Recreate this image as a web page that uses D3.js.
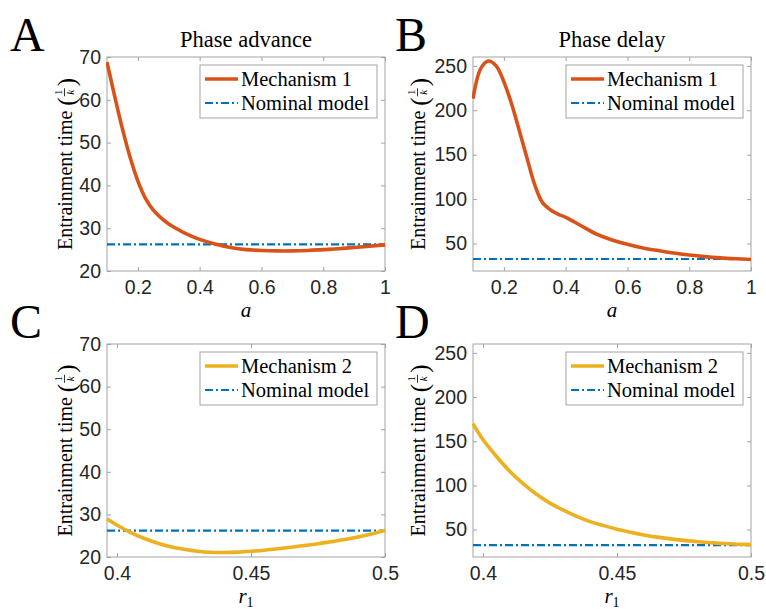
<!DOCTYPE html>
<html>
<head>
<meta charset="utf-8">
<script src="https://cdn.jsdelivr.net/npm/d3@7"></script>
<style>
  body { margin: 0; background: #fff; }
  svg { display: block; }
</style>
</head>
<body>
<div class="chart"></div>
<script>
// sweep of a (panels A, B)
const aValues = [0.1, 0.125, 0.15, 0.175, 0.2, 0.225, 0.25, 0.275, 0.3, 0.325, 0.35, 0.375, 0.4,
  0.45, 0.5, 0.55, 0.6, 0.65, 0.7, 0.75, 0.8, 0.85, 0.9, 0.95, 1.0];
const mech1Advance = [68.8, 60.8, 53.2, 46.5, 41.0, 36.9, 34.2, 32.4, 31.0, 29.9, 28.9, 28.1, 27.4,
  26.3, 25.5, 25.0, 24.8, 24.7, 24.7, 24.8, 25.0, 25.2, 25.5, 25.8, 26.1];
const mech1Delay = [213, 247, 255.5, 250, 232, 207, 177, 146, 116, 96, 88, 83, 79.5,
  70, 60.5, 54, 49, 45, 42, 39.2, 37, 35.2, 33.8, 32.8, 32];

// sweep of r1 (panels C, D)
const r1Values = [0.3963, 0.4, 0.405, 0.41, 0.415, 0.42, 0.425, 0.43, 0.435, 0.44, 0.445, 0.45,
  0.455, 0.46, 0.465, 0.47, 0.475, 0.48, 0.485, 0.49, 0.495, 0.5];
const mech2Advance = [28.9, 27.5, 25.8, 24.4, 23.3, 22.4, 21.8, 21.35, 21.1, 21.05, 21.15, 21.35,
  21.6, 21.95, 22.3, 22.7, 23.1, 23.6, 24.1, 24.7, 25.4, 26.2];
const mech2Delay = [170, 152, 133, 116, 102, 90, 80, 72, 65, 59, 54.5, 50.5,
  47, 44, 41.5, 39.5, 37.8, 36.3, 35.2, 34.2, 33.5, 33];

const nominalAdvance = 26.2;
const nominalDelay = 32.5;

const aTicks = [0.2, 0.4, 0.6, 0.8, 1];
const r1Ticks = [0.4, 0.45, 0.5];
const advanceTicks = [20, 30, 40, 50, 60, 70];
const delayTicks = [50, 100, 150, 200, 250];

const width = 766, height = 609;
const serif = "'Liberation Serif', 'Times New Roman', serif";
const sans = "'Liberation Sans', Arial, sans-serif";
const boxColor = "#a3a3a3";
const textColor = "#262626";
const latexColor = "#000";

const svg = d3
  .select(".chart")
  .append("svg")
  .attr("width", width)
  .attr("height", height);

const panels = [
  { id: "A", title: "Phase advance", xs: aValues, ys: mech1Advance, nominal: nominalAdvance,
    xDomain: [0.1, 1], yDomain: [20, 70], xTicks: aTicks, yTicks: advanceTicks,
    color: "#d95319", name: "Mechanism 1", xLabel: "a",
    left: 107, top: 57, w: 278, h: 214, labelOffset: 35 },
  { id: "B", title: "Phase delay", xs: aValues, ys: mech1Delay, nominal: nominalDelay,
    xDomain: [0.1, 1], yDomain: [19, 260], xTicks: aTicks, yTicks: delayTicks,
    color: "#d95319", name: "Mechanism 1", xLabel: "a",
    left: 473, top: 57, w: 278, h: 214, labelOffset: 48 },
  { id: "C", title: null, xs: r1Values, ys: mech2Advance, nominal: nominalAdvance,
    xDomain: [0.3963, 0.5], yDomain: [20, 70], xTicks: r1Ticks, yTicks: advanceTicks,
    color: "#edb120", name: "Mechanism 2", xLabel: "r1",
    left: 107, top: 344, w: 278, h: 213, labelOffset: 35 },
  { id: "D", title: null, xs: r1Values, ys: mech2Delay, nominal: nominalDelay,
    xDomain: [0.3963, 0.5], yDomain: [19, 260], xTicks: r1Ticks, yTicks: delayTicks,
    color: "#edb120", name: "Mechanism 2", xLabel: "r1",
    left: 473, top: 344, w: 278, h: 213, labelOffset: 48 }
];

panels.forEach(drawPanel);

function drawPanel(p) {
  const g = svg.append("g").attr("transform", `translate(${p.left}, ${p.top})`);
  const x = d3.scaleLinear().domain(p.xDomain).range([0, p.w]);
  const y = d3.scaleLinear().domain(p.yDomain).range([p.h, 0]);
  const fmt = d3.format("~g");

  // axes, ticks pointing inward on all four sides
  const bottom = g.append("g")
    .attr("transform", `translate(0, ${p.h})`)
    .call(d3.axisBottom(x).tickValues(p.xTicks).tickSize(-4).tickPadding(9).tickFormat(fmt));
  const left = g.append("g")
    .call(d3.axisLeft(y).tickValues(p.yTicks).tickSize(-4).tickPadding(6).tickFormat(fmt));
  g.append("g").call(d3.axisTop(x).tickValues(p.xTicks).tickSize(-4).tickFormat(""));
  g.append("g").attr("transform", `translate(${p.w}, 0)`)
    .call(d3.axisRight(y).tickValues(p.yTicks).tickSize(-4).tickFormat(""));

  g.selectAll(".domain").remove();
  g.selectAll(".tick line").attr("stroke", boxColor);
  [bottom, left].forEach(ax => ax.selectAll("text")
    .style("font-family", sans).style("font-size", "19.5px").attr("fill", textColor));

  g.append("rect")
    .attr("width", p.w).attr("height", p.h)
    .attr("fill", "none").attr("stroke", boxColor).attr("stroke-width", 1);

  // clip + curves
  const clipId = "clip" + p.id;
  g.append("clipPath").attr("id", clipId)
    .append("rect").attr("x", -1).attr("y", -2).attr("width", p.w + 2).attr("height", p.h + 4);

  const pts = p.xs.map((v, i) => [v, p.ys[i]]);
  const line = d3.line().x(d => x(d[0])).y(d => y(d[1])).curve(d3.curveCatmullRom.alpha(0.5));

  g.append("line")
    .attr("clip-path", `url(#${clipId})`)
    .attr("x1", x(p.xDomain[0])).attr("x2", x(p.xDomain[1]))
    .attr("y1", y(p.nominal)).attr("y2", y(p.nominal))
    .attr("stroke", "#0072bd").attr("stroke-width", 2.2)
    .attr("stroke-dasharray", "8,3,2,3");

  g.append("path")
    .datum(pts)
    .attr("clip-path", `url(#${clipId})`)
    .attr("d", line)
    .attr("fill", "none")
    .attr("stroke", p.color)
    .attr("stroke-width", 3.6)
    .attr("stroke-linejoin", "round");

  // legend
  const lg = g.append("g").attr("transform", `translate(${p.w - 185}, 8)`);
  lg.append("rect").attr("width", 177).attr("height", 53)
    .attr("fill", "#fff").attr("stroke", boxColor).attr("stroke-width", 1);
  lg.append("line").attr("x1", 5).attr("x2", 38).attr("y1", 14).attr("y2", 14)
    .attr("stroke", p.color).attr("stroke-width", 3.6);
  lg.append("line").attr("x1", 5).attr("x2", 38).attr("y1", 38).attr("y2", 38)
    .attr("stroke", "#0072bd").attr("stroke-width", 2.2).attr("stroke-dasharray", "8,3,2,3");
  lg.append("text").attr("x", 41).attr("y", 21).text(p.name)
    .style("font-family", serif).style("font-size", "20.5px").attr("fill", latexColor);
  lg.append("text").attr("x", 41).attr("y", 45).text("Nominal model")
    .style("font-family", serif).style("font-size", "20.5px").attr("fill", latexColor);

  // title
  if (p.title) {
    svg.append("text")
      .attr("x", p.left + p.w / 2).attr("y", p.top - 10)
      .attr("text-anchor", "middle")
      .style("font-family", serif).style("font-size", "22.5px").attr("fill", latexColor)
      .text(p.title);
  }

  // panel letter
  svg.append("text")
    .attr("x", p.left < 200 ? 10 : 395).attr("y", p.top - 6)
    .style("font-family", serif).style("font-size", "48px").attr("fill", "#000")
    .text(p.id);

  // x label
  const xl = svg.append("text")
    .attr("x", p.left + p.w / 2).attr("y", p.top + p.h + 46)
    .attr("text-anchor", "middle")
    .style("font-family", serif).style("font-size", "21px").style("font-style", "italic")
    .attr("fill", latexColor);
  if (p.xLabel === "r1") {
    xl.append("tspan").text("r");
    xl.append("tspan").attr("dy", 4).style("font-size", "14px").style("font-style", "normal").text("1");
  } else {
    xl.text(p.xLabel);
  }

  // y label: Entrainment time (1/k)
  const yl = svg.append("g")
    .attr("transform", `translate(${p.left - p.labelOffset}, ${p.top + p.h / 2}) rotate(-90)`);
  const inner = yl.append("g").style("font-family", serif).attr("fill", latexColor);
  const t1 = inner.append("text").attr("x", 0).attr("y", 0)
    .style("font-size", "20px").text("Entrainment time");
  let cx = t1.node().getComputedTextLength() + 5;
  const lp = inner.append("text").attr("x", cx).attr("y", 3)
    .style("font-size", "25px").text("(");
  cx += lp.node().getComputedTextLength() + 1;
  const fx = cx + 4;
  inner.append("text").attr("x", fx).attr("y", -10).attr("text-anchor", "middle")
    .style("font-size", "11px").text("1");
  inner.append("line").attr("x1", fx - 4).attr("x2", fx + 4).attr("y1", -7.5).attr("y2", -7.5)
    .attr("stroke", latexColor).attr("stroke-width", 0.8);
  inner.append("text").attr("x", fx).attr("y", 2).attr("text-anchor", "middle")
    .style("font-size", "11px").style("font-style", "italic").text("k");
  cx = fx + 6;
  const rp = inner.append("text").attr("x", cx).attr("y", 3)
    .style("font-size", "25px").text(")");
  const total = cx + rp.node().getComputedTextLength();
  inner.attr("transform", `translate(${-total / 2}, 0)`);
}
</script>
</body>
</html>
